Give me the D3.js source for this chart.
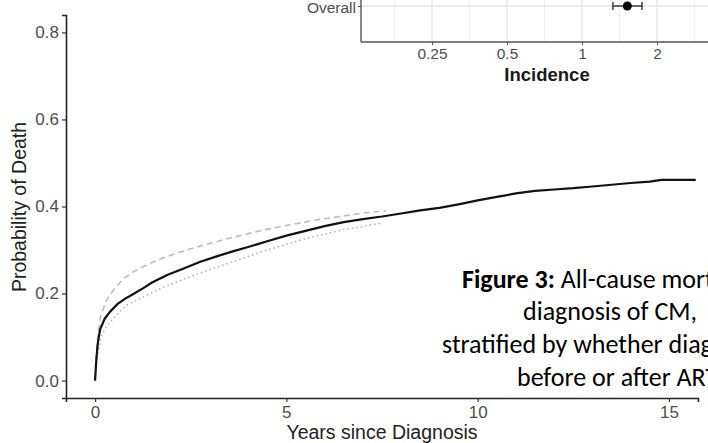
<!DOCTYPE html>
<html>
<head>
<meta charset="utf-8">
<script src="https://cdn.jsdelivr.net/npm/d3@7"></script>
<style>
  html, body { margin: 0; padding: 0; background: #fff; }
  svg { display: block; }
</style>
</head>
<body>
<svg id="chart" width="708" height="443"></svg>
<script>
// Cumulative all-cause mortality after diagnosis (overall and two strata)
const overallYears = [0, 0.03, 0.07, 0.13, 0.25, 0.4, 0.6, 0.8, 1.0, 1.25, 1.5, 1.9, 2.3, 2.75, 3.2, 3.6, 4.0, 4.5, 5.0, 5.5, 6.0, 6.5, 7.0, 7.5, 8.0, 8.5, 9.0, 9.5, 10.0, 10.5, 11.0, 11.5, 12.0, 12.5, 13.0, 13.5, 14.0, 14.5, 14.8, 15.7];
const overallProb  = [0, 0.045, 0.085, 0.117, 0.142, 0.159, 0.177, 0.189, 0.199, 0.212, 0.226, 0.243, 0.257, 0.273, 0.286, 0.297, 0.307, 0.320, 0.333, 0.344, 0.355, 0.364, 0.371, 0.377, 0.384, 0.391, 0.397, 0.405, 0.414, 0.422, 0.430, 0.436, 0.439, 0.442, 0.446, 0.450, 0.454, 0.457, 0.461, 0.461];

const beforeYears = [0, 0.03, 0.08, 0.15, 0.3, 0.5, 0.75, 1.0, 1.4, 1.8, 2.5, 3.5, 4.5, 5.7, 7.0, 7.6];
const beforeProb  = [0, 0.06, 0.11, 0.15, 0.185, 0.21, 0.235, 0.25, 0.268, 0.283, 0.303, 0.327, 0.348, 0.368, 0.385, 0.39];

const afterYears = [0, 0.05, 0.15, 0.3, 0.5, 0.8, 1.2, 1.6, 2.0, 2.7, 3.5, 4.5, 5.5, 6.5, 7.5];
const afterProb  = [0, 0.05, 0.1, 0.125, 0.145, 0.172, 0.19, 0.207, 0.222, 0.246, 0.27, 0.3, 0.326, 0.347, 0.362];

const xTicks = [0, 5, 10, 15];
const yTicks = [0.0, 0.2, 0.4, 0.6, 0.8];

// Inset: incidence estimate with confidence interval (log scale)
const insetLabels = ["Overall"];
const insetEstimate = [1.52];
const insetLower = [1.33];
const insetUpper = [1.74];
const insetTicks = [0.25, 0.5, 1, 2];
const insetTickLabels = ["0.25", "0.5", "1", "2"];

const captionLines = [
  [{t: "Figure 3:", b: true}, {t: " All-cause mortality following", b: false}],
  [{t: "diagnosis of CM,", b: false}],
  [{t: "stratified by whether diagnosed", b: false}],
  [{t: "before or after ART", b: false}]
];

const svg = d3.select("#chart");
const font = "'Liberation Sans', Arial, Helvetica, sans-serif";

// ---- main panel ----
const x = d3.scaleLinear().domain([-0.76, 15.76]).range([66, 698]);
const y = d3.scaleLinear().domain([-0.04, 0.84]).range([398, 15]);

const zip = (a, b) => a.map((v, i) => [v, b[i]]);
const line = d3.line().x(d => x(d[0])).y(d => y(d[1]));

svg.append("path")
  .attr("d", line(zip(beforeYears, beforeProb)))
  .attr("fill", "none").attr("stroke", "#bcbcbc")
  .attr("stroke-width", 1.6).attr("stroke-dasharray", "6,4");

svg.append("path")
  .attr("d", line(zip(afterYears, afterProb)))
  .attr("fill", "none").attr("stroke", "#b4b4b4")
  .attr("stroke-width", 1.6).attr("stroke-dasharray", "1.5,3");

svg.append("path")
  .attr("d", line(zip(overallYears, overallProb)))
  .attr("fill", "none").attr("stroke", "#111")
  .attr("stroke-width", 2.2).attr("stroke-linejoin", "round");

const xAxis = svg.append("g").attr("transform", "translate(0,398)")
  .call(d3.axisBottom(x).tickValues(xTicks).tickFormat(d3.format("d")).tickSize(4).tickPadding(4));
const yAxis = svg.append("g").attr("transform", "translate(66,0)")
  .call(d3.axisLeft(y).tickValues(yTicks).tickFormat(d3.format(".1f")).tickSize(4).tickPadding(3));

[xAxis, yAxis].forEach(g => {
  g.select(".domain").attr("stroke", "#222").attr("stroke-width", 1.6);
  g.selectAll(".tick line").attr("stroke", "#333").attr("stroke-width", 1.2);
  g.selectAll(".tick text").attr("fill", "#4d4d4d")
    .style("font-family", font).style("font-size", "17px");
});

svg.append("text")
  .attr("x", 382).attr("y", 439).attr("text-anchor", "middle")
  .style("font-family", font).style("font-size", "19.5px").attr("fill", "#222")
  .text("Years since Diagnosis");

svg.append("text")
  .attr("transform", "translate(26,207) rotate(-90)").attr("text-anchor", "middle")
  .style("font-family", font).style("font-size", "19.5px").attr("fill", "#222")
  .text("Probability of Death");

// ---- inset forest plot ----
const inset = svg.append("g");
inset.append("rect").attr("x", 296).attr("y", 0).attr("width", 412).attr("height", 88).attr("fill", "#fff");

const ix = d3.scaleLog().base(2).domain([Math.pow(2, -2.947), Math.pow(2, 2.013)]).range([361, 733]);
const iy = d3.scalePoint().domain(insetLabels).range([6, 6]);

// grid: major at tick values, minor halfway in log space
const minor = insetTicks.map(t => t * Math.SQRT1_2).concat([insetTicks[insetTicks.length - 1] * Math.SQRT2]);
inset.selectAll("line.minor").data(minor).join("line")
  .attr("x1", d => ix(d)).attr("x2", d => ix(d)).attr("y1", 0).attr("y2", 42)
  .attr("stroke", "#f0f0f0").attr("stroke-width", 1);
inset.selectAll("line.major").data(insetTicks).join("line")
  .attr("x1", d => ix(d)).attr("x2", d => ix(d)).attr("y1", 0).attr("y2", 42)
  .attr("stroke", "#e6e6e6").attr("stroke-width", 1.3);
inset.selectAll("line.hgrid").data(insetLabels).join("line")
  .attr("x1", 361).attr("x2", 708).attr("y1", d => iy(d)).attr("y2", d => iy(d))
  .attr("stroke", "#e6e6e6").attr("stroke-width", 1.3);

// error bars and points
const rows = insetLabels.map((l, i) => ({l, est: insetEstimate[i], lo: insetLower[i], hi: insetUpper[i]}));
rows.forEach(r => {
  const yy = iy(r.l);
  inset.append("line").attr("x1", ix(r.lo)).attr("x2", ix(r.hi)).attr("y1", yy).attr("y2", yy)
    .attr("stroke", "#222").attr("stroke-width", 1.3);
  [r.lo, r.hi].forEach(v => inset.append("line")
    .attr("x1", ix(v)).attr("x2", ix(v)).attr("y1", yy - 4).attr("y2", yy + 4)
    .attr("stroke", "#222").attr("stroke-width", 1.3));
  inset.append("circle").attr("cx", ix(r.est)).attr("cy", yy).attr("r", 4.5).attr("fill", "#000");
});

const ixAxis = inset.append("g").attr("transform", "translate(0,42)")
  .call(d3.axisBottom(ix).tickValues(insetTicks).tickFormat((d, i) => insetTickLabels[i]).tickSize(3).tickPadding(3));
const iyAxis = inset.append("g").attr("transform", "translate(361,0)")
  .call(d3.axisLeft(iy).tickSize(3).tickPadding(2));
ixAxis.select(".domain").attr("d", "M361,0H733");
iyAxis.select(".domain").attr("d", "M0,-10V42");
[ixAxis, iyAxis].forEach(g => {
  g.select(".domain").attr("stroke", "#555").attr("stroke-width", 1.4);
  g.selectAll(".tick line").attr("stroke", "#555");
  g.selectAll(".tick text").attr("fill", "#4d4d4d")
    .style("font-family", font).style("font-size", "15.5px");
});
iyAxis.selectAll(".tick text").attr("dy", "0.4em");

inset.append("text")
  .attr("x", 547).attr("y", 81).attr("text-anchor", "middle")
  .style("font-family", font).style("font-size", "18.5px").style("font-weight", "bold").attr("fill", "#1a1a1a")
  .text("Incidence");

// ---- caption ----
const capX = [462, 523, 442, 517];
const capY = [288, 320, 353, 386];
const cap = svg.append("g");
captionLines.forEach((parts, i) => {
  const t = cap.append("text").attr("x", capX[i]).attr("y", capY[i])
    .style("font-family", "Carlito, Lato, 'Open Sans', sans-serif").style("font-size", "26px").attr("fill", "#000");
  parts.forEach(p => t.append("tspan").style("font-weight", p.b ? "bold" : "normal").text(p.t));
});
</script>
</body>
</html>
